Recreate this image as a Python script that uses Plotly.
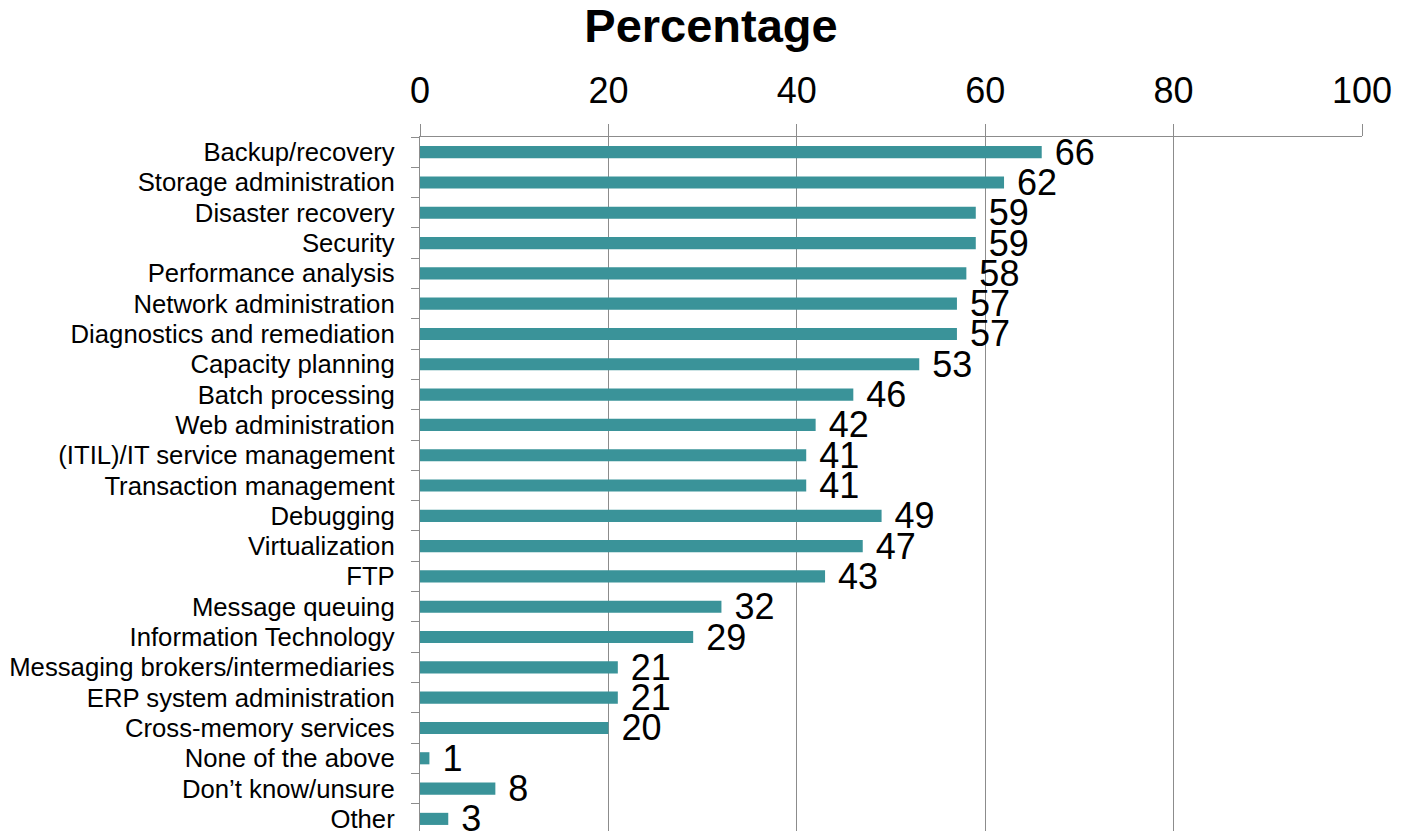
import plotly.graph_objects as go

categories = [
    "Backup/recovery", "Storage administration", "Disaster recovery", "Security",
    "Performance analysis", "Network administration", "Diagnostics and remediation",
    "Capacity planning", "Batch processing", "Web administration",
    "(ITIL)/IT service management", "Transaction management", "Debugging",
    "Virtualization", "FTP", "Message queuing", "Information Technology",
    "Messaging brokers/intermediaries", "ERP system administration",
    "Cross-memory services", "None of the above", "Don\u2019t know/unsure", "Other",
]
values = [66, 62, 59, 59, 58, 57, 57, 53, 46, 42, 41, 41, 49, 47, 43, 32, 29, 21, 21, 20, 1, 8, 3]
x_ticks = [0, 20, 40, 60, 80, 100]

bar_color = "#3a9399"
grid_color = "#8c8c8c"
font_family = "Liberation Sans, Arial, sans-serif"

fig = go.Figure(
    go.Bar(
        x=values,
        y=categories,
        orientation="h",
        width=0.4,
        marker=dict(color=bar_color, line=dict(width=0)),
        text=[f" {v}" for v in values],
        textposition="outside",
        constraintext="none",
        cliponaxis=False,
        textfont=dict(size=36, color="black", family=font_family),
        hoverinfo="skip",
    )
)

fig.update_layout(
    width=1404,
    height=833,
    margin=dict(l=420, r=42, t=137, b=0),
    paper_bgcolor="white",
    plot_bgcolor="white",
    showlegend=False,
    title=dict(
        text="<b>Percentage</b>",
        x=0.5064,
        xanchor="center",
        xref="container",
        y=0.969,
        yanchor="middle",
        font=dict(size=47, color="black", family=font_family),
    ),
    xaxis=dict(
        side="top",
        range=[0, 100],
        tickmode="array",
        tickvals=x_ticks,
        ticktext=[str(t) for t in x_ticks],
        tickfont=dict(size=36, color="black", family=font_family),
        showgrid=True,
        gridcolor=grid_color,
        gridwidth=1.3,
        zeroline=False,
        showline=True,
        linecolor=grid_color,
        linewidth=1.3,
        ticks="outside",
        ticklen=12,
        tickcolor=grid_color,
        tickwidth=1.3,
        ticklabelstandoff=6,
        fixedrange=True,
    ),
    yaxis=dict(
        type="category",
        categoryorder="array",
        categoryarray=categories,
        tickmode="array",
        tickvals=categories,
        ticktext=categories,
        range=[22.4, -0.5],
        autorange=False,
        tickfont=dict(size=25.7, color="black", family=font_family),
        showgrid=False,
        zeroline=False,
        showline=True,
        linecolor=grid_color,
        linewidth=1.3,
        ticks="outside",
        tickson="boundaries",
        ticklen=8,
        tickcolor=grid_color,
        tickwidth=1.3,
        ticklabelstandoff=19,
        fixedrange=True,
    ),
)

fig.write_html("out.html")
